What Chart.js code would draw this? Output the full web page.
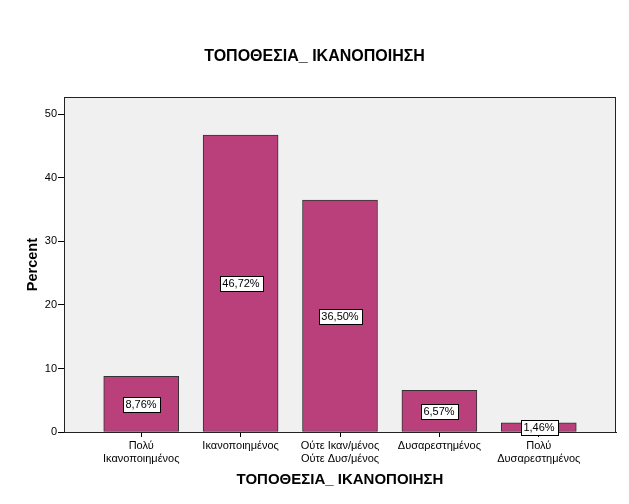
<!DOCTYPE html>
<html>
<head>
<meta charset="utf-8">
<script src="https://cdn.jsdelivr.net/npm/chart.js@4/dist/chart.umd.min.js"></script>
<style>
  html, body { margin: 0; padding: 0; background: #fff; }
  #wrap { width: 629px; height: 504px; }
</style>
</head>
<body>
<div id="wrap"><canvas id="chart" width="629" height="504"></canvas></div>
<script>
const chartTitle = 'ΤΟΠΟΘΕΣΙΑ_ ΙΚΑΝΟΠΟΙΗΣΗ';
const categories = [
  ['Πολύ', 'Ικανοποιημένος'],
  ['Ικανοποιημένος'],
  ['Ούτε Ικαν/μένος', 'Ούτε Δυσ/μένος'],
  ['Δυσαρεστημένος'],
  ['Πολύ', 'Δυσαρεστημένος']
];
const percents = [8.76, 46.72, 36.50, 6.57, 1.46];
const percentLabels = ['8,76%', '46,72%', '36,50%', '6,57%', '1,46%'];
const yTicks = [0, 10, 20, 30, 40, 50];

const FONT = 'Arial, "Liberation Sans", sans-serif';

// grey plot background + box around the chart area
const plotBox = {
  id: 'plotBox',
  beforeDraw(chart) {
    const { ctx, chartArea: a } = chart;
    ctx.save();
    ctx.fillStyle = '#fff';
    ctx.fillRect(0, 0, chart.width, chart.height);
    ctx.fillStyle = '#f0f0f0';
    ctx.fillRect(a.left, a.top, a.right - a.left, a.bottom - a.top);
    ctx.restore();
  },
  beforeDatasetsDraw(chart) {
    const { ctx, chartArea: a } = chart;
    ctx.save();
    ctx.strokeStyle = '#222';
    ctx.lineWidth = 1;
    ctx.strokeRect(Math.round(a.left) + 0.5, Math.round(a.top) + 0.5,
      Math.round(a.right - a.left) - 1, Math.round(a.bottom - a.top));
    ctx.restore();
  }
};

// boxed value labels in the middle of each bar
const barLabels = {
  id: 'barLabels',
  afterDatasetsDraw(chart) {
    const { ctx } = chart;
    const meta = chart.getDatasetMeta(0);
    ctx.save();
    ctx.font = '11px ' + FONT;
    ctx.textAlign = 'center';
    ctx.textBaseline = 'middle';
    meta.data.forEach((bar, i) => {
      const txt = percentLabels[i];
      const cx = Math.round(bar.x);
      const cy = Math.round((bar.y + bar.base) / 2);
      const w = Math.ceil(ctx.measureText(txt).width) + 5;
      const h = 15;
      const x0 = Math.round(cx - w / 2) + 0.5, y0 = Math.round(cy - h / 2) + 0.5;
      ctx.fillStyle = '#fff';
      ctx.fillRect(x0, y0, w, h);
      ctx.strokeStyle = '#000';
      ctx.lineWidth = 1;
      ctx.strokeRect(x0, y0, w, h);
      ctx.fillStyle = '#000';
      ctx.fillText(txt, cx, cy + 1);
    });
    ctx.restore();
  }
};

new Chart(document.getElementById('chart'), {
  type: 'bar',
  data: {
    datasets: [{
      data: percents.map((v, i) => ({ x: i, y: v })),
      backgroundColor: '#ba407c',
      borderColor: '#333',
      borderWidth: 1,
      borderSkipped: false,
      barThickness: 75
    }]
  },
  options: {
    responsive: false,
    animation: false,
    layout: { padding: 0 },
    plugins: {
      legend: { display: false },
      tooltip: { enabled: false },
      title: {
        display: true,
        text: chartTitle,
        color: '#000',
        font: { family: FONT, size: 16, weight: 'bold' },
        padding: { top: 47, bottom: 31 }
      }
    },
    scales: {
      x: {
        type: 'linear',
        offset: false,
        min: -0.777,
        max: 4.777,
        afterBuildTicks: s => { s.ticks = categories.map((c, i) => ({ value: i })); },
        afterFit: s => { s.height = 72; },
        ticks: {
          autoSkip: false,
          maxRotation: 0,
          padding: 2,
          color: '#000',
          font: { family: FONT, size: 11 },
          callback: v => categories[v]
        },
        grid: { offset: false, drawOnChartArea: false, drawTicks: true, tickLength: 5, color: '#000' },
        border: { display: true, color: '#222' },
        title: {
          display: true,
          text: chartTitle,
          color: '#000',
          font: { family: FONT, size: 15, weight: 'bold' },
          padding: { top: 0, bottom: 15 }
        }
      },
      y: {
        min: 0,
        max: 52.7,
        afterBuildTicks: s => { s.ticks = yTicks.map(v => ({ value: v })); },
        afterFit: s => { s.width = 64; },
        ticks: {
          padding: 1,
          color: '#000',
          font: { family: FONT, size: 11 }
        },
        grid: { drawOnChartArea: false, drawTicks: true, tickLength: 6, color: '#000' },
        border: { display: true, color: '#222' },
        title: {
          display: true,
          text: 'Percent',
          color: '#000',
          font: { family: FONT, size: 14.5, weight: 'bold' },
          padding: { top: 24, bottom: 0 }
        }
      },
      yRight: {
        position: 'right',
        display: true,
        ticks: { display: false },
        grid: { display: false },
        border: { display: false },
        afterFit: s => { s.width = 13; }
      }
    }
  },
  plugins: [plotBox, barLabels]
});
</script>
</body>
</html>
